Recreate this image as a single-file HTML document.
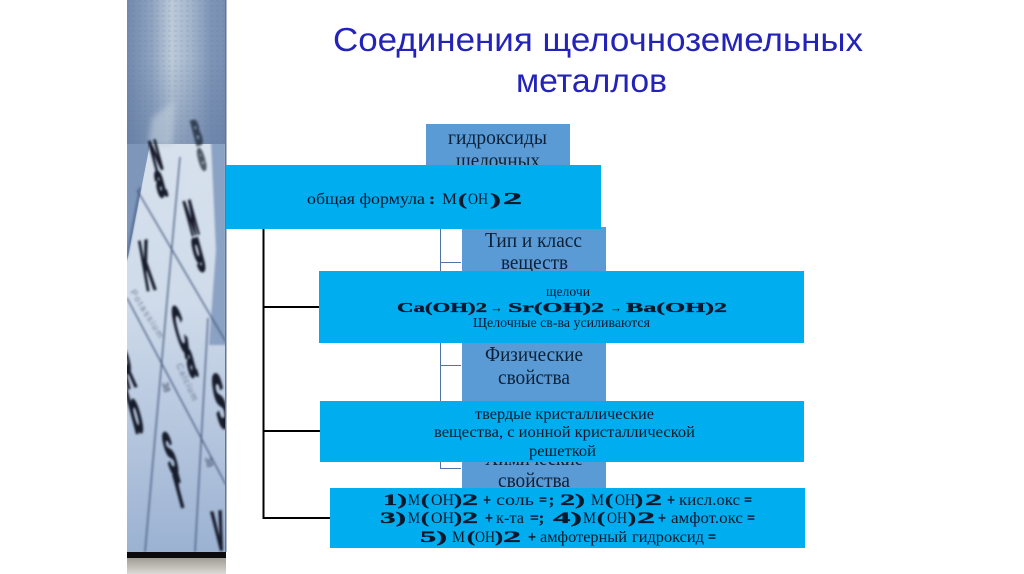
<!DOCTYPE html>
<html><head><meta charset="utf-8">
<style>
html,body{margin:0;padding:0;background:#fff;width:1024px;height:574px;overflow:hidden}
svg{display:block}
.t{font-family:"Liberation Sans","DejaVu Sans",sans-serif;fill:#1212b4;font-size:33px}
text.b{font-family:"Liberation Serif","DejaVu Serif",serif;fill:#0c2138;font-size:21px}
text.r{font-family:"Liberation Serif","DejaVu Serif",serif;fill:#08192e}
text.w{font-family:"Liberation Serif",serif;font-weight:bold;fill:#08192e;stroke:#08192e;stroke-width:.35px}
text.p{font-family:"Liberation Sans",sans-serif;fill:#131a2a;font-weight:bold;font-size:20px;stroke:#131a2a;stroke-width:2.4px;vector-effect:non-scaling-stroke}
text.q{font-family:"Liberation Sans",sans-serif;fill:#2a3650;font-size:9px}
.f15{font-size:15.5px}.f16{font-size:16px}.f13{font-size:13.5px}
</style></head><body>
<svg width="1024" height="574" viewBox="0 0 1024 574" xmlns="http://www.w3.org/2000/svg">
<defs>
<linearGradient id="g" x1="0" y1="0" x2="0" y2="1">
<stop offset="0" stop-color="#dfe7f1"/><stop offset=".55" stop-color="#cfdbea"/><stop offset=".8" stop-color="#b3c4dd"/><stop offset="1" stop-color="#9bb2d2"/>
</linearGradient>
<linearGradient id="top" x1="0" y1="0" x2="1" y2="0">
<stop offset="0" stop-color="#7189ae"/><stop offset=".25" stop-color="#8ea3c0"/><stop offset=".45" stop-color="#bccad9"/><stop offset=".65" stop-color="#a2b4cb"/><stop offset=".85" stop-color="#7d94b6"/><stop offset="1" stop-color="#788fb3"/>
</linearGradient>
<linearGradient id="shade" x1="0" y1="0" x2="0" y2="1">
<stop offset="0" stop-color="#5f789f" stop-opacity="0"/><stop offset="1" stop-color="#5f789f" stop-opacity=".5"/>
</linearGradient>
<linearGradient id="foot" x1="0" y1="0" x2="0" y2="1">
<stop offset="0" stop-color="#a09c94"/><stop offset="1" stop-color="#dcdad6"/>
</linearGradient>
<pattern id="tex" width="6" height="5" patternUnits="userSpaceOnUse">
<rect width="3" height="2" fill="#51698f" opacity=".1"/>
</pattern>
<filter id="b"><feGaussianBlur stdDeviation="1"/></filter>
<filter id="b3"><feGaussianBlur stdDeviation="3"/></filter>
<clipPath id="c"><rect x="127" y="0" width="99" height="552"/></clipPath>
</defs>

<!-- left photo panel -->
<g clip-path="url(#c)">
<rect x="127" y="0" width="99" height="552" fill="url(#g)"/>
<polygon points="127,144 150,144 127,262" fill="#7d96ba"/>
<polygon points="210,120 226,120 226,345 209,345 216,250" fill="#8aa2c3" filter="url(#b)"/>
<rect x="127" y="0" width="99" height="144" fill="url(#top)"/>
<rect x="127" y="0" width="99" height="144" fill="url(#tex)"/>
<rect x="127" y="60" width="99" height="84" fill="url(#shade)"/>
<polygon points="152,118 175,100 172,146 148,146" fill="#c0cedc" opacity=".6" filter="url(#b3)"/>
<g filter="url(#b)">
<g stroke="#3f5379" stroke-width="1.2" fill="none">
<line x1="180" y1="157" x2="168" y2="290"/>
<line x1="168" y1="290" x2="145" y2="552"/>
<line x1="208" y1="318" x2="195" y2="552"/>
<line x1="137" y1="190" x2="226" y2="342"/>
<line x1="127" y1="298" x2="226" y2="485"/>
<line x1="127" y1="257" x2="140" y2="187"/>
</g>
<text class="p" transform="translate(155,170) rotate(-15) scale(.62,2.05)">N</text>
<text class="p" transform="translate(159,197) rotate(-15) scale(.8,2.3)">a</text>
<text class="p" transform="translate(196,145) rotate(-15) scale(.55,1.7)" opacity=".7">B</text>
<text class="p" transform="translate(201,170) rotate(-15) scale(.6,1.9)" opacity=".7">e</text>
<text class="p" transform="translate(191,235) rotate(-15) scale(.55,2.4)">M</text>
<text class="p" transform="translate(196,263) rotate(-15) scale(.75,2.2)">g</text>
<text class="p" transform="translate(146,290) rotate(-10) scale(.7,3.5)">K</text>
<text class="p" transform="translate(181,353) rotate(-15) scale(.7,3.3)">C</text>
<text class="p" transform="translate(190,377) rotate(-15) scale(.75,2.6)">a</text>
<text class="p" transform="translate(127,388) rotate(-15) scale(.7,2.8)">R</text>
<text class="p" transform="translate(135,433) rotate(-15) scale(.85,3)">b</text>
<text class="p" transform="translate(171,475) rotate(-15) scale(.7,3)">S</text>
<text class="p" transform="translate(180,507) rotate(-15) scale(.9,3)">r</text>
<text class="p" transform="translate(219,428) rotate(-10) scale(.85,3.8)">S</text>
<text class="p" transform="translate(216,550) rotate(-8) scale(.8,2.7)">V</text>
<text class="q" transform="translate(130,292) rotate(58)" textLength="55" opacity=".6">Potassium</text>
<text class="q" transform="translate(176,365) rotate(65)" textLength="40" opacity=".6">Calcium</text>
<text class="q" transform="translate(162,383) rotate(75)">38</text>
<text class="q" transform="translate(205,458) rotate(75)">38</text>
</g>
</g>
<rect x="225" y="0" width="1.5" height="552" fill="#66758f"/>
<rect x="127" y="552" width="99" height="6" fill="#0b0b0d"/>
<rect x="127" y="558" width="99" height="16" fill="url(#foot)"/>

<!-- title -->
<text class="t" x="333" y="51" textLength="530" lengthAdjust="spacingAndGlyphs" fill-opacity=".93">Соединения щелочноземельных</text>
<text class="t" x="516" y="92" textLength="151" lengthAdjust="spacingAndGlyphs" fill-opacity=".93">металлов</text>

<!-- blue boxes behind -->
<rect x="426" y="124" width="144" height="45" fill="#5b9bd5"/>
<rect x="462" y="227" width="144" height="48" fill="#5b9bd5"/>
<rect x="462" y="340" width="144" height="64" fill="#5b9bd5"/>
<rect x="462" y="458" width="144" height="34" fill="#5b9bd5"/>

<text class="b" x="448" y="144" textLength="99" lengthAdjust="spacingAndGlyphs">гидроксиды</text>
<text class="b" x="456" y="167" textLength="84" lengthAdjust="spacingAndGlyphs">щелочных</text>
<text class="b" x="485" y="247" textLength="97" lengthAdjust="spacingAndGlyphs">Тип и класс</text>
<text class="b" x="501" y="269" textLength="67" lengthAdjust="spacingAndGlyphs">веществ</text>
<text class="b" x="485" y="361" textLength="98" lengthAdjust="spacingAndGlyphs">Физические</text>
<text class="b" x="498" y="384" textLength="72" lengthAdjust="spacingAndGlyphs">свойства</text>
<text class="b" x="485" y="465" textLength="98" lengthAdjust="spacingAndGlyphs">Химические</text>
<text class="b" x="498" y="487" textLength="72" lengthAdjust="spacingAndGlyphs">свойства</text>

<!-- connectors -->
<g stroke="#4f74a8" stroke-width="1" fill="none">
<line x1="440.5" y1="229" x2="440.5" y2="469"/>
<line x1="440" y1="262.5" x2="461" y2="262.5"/>
<line x1="440" y1="365.5" x2="461" y2="365.5"/>
<line x1="440" y1="468.5" x2="461" y2="468.5"/>
</g>
<g stroke="#000" stroke-width="2" fill="none">
<line x1="263.5" y1="229" x2="263.5" y2="519"/>
<line x1="263" y1="307" x2="320" y2="307"/>
<line x1="263" y1="431" x2="320" y2="431"/>
<line x1="263" y1="518" x2="330" y2="518"/>
</g>

<!-- cyan boxes -->
<rect x="226" y="165" width="375" height="64" fill="#00adef"/>
<rect x="319" y="271" width="485" height="72" fill="#00adef"/>
<rect x="320" y="401" width="484" height="61" fill="#00adef"/>
<rect x="330" y="488" width="475" height="60" fill="#00adef"/>

<!-- cyan box 1 -->
<text class="r f16" x="307" y="204" textLength="118" lengthAdjust="spacingAndGlyphs">общая формула</text>
<text class="w f16" x="429" y="204" textLength="6" lengthAdjust="spacingAndGlyphs">:</text>
<text class="r f16" x="442" y="204" textLength="15" lengthAdjust="spacingAndGlyphs">М</text>
<text class="w" font-size="17" x="458" y="205" textLength="9" lengthAdjust="spacingAndGlyphs">(</text>
<text class="r f16" x="468" y="204" textLength="20" lengthAdjust="spacingAndGlyphs">ОН</text>
<text class="w" font-size="17" x="490" y="205" textLength="11" lengthAdjust="spacingAndGlyphs">)</text>
<text class="w" font-size="17" x="503" y="204" textLength="19" lengthAdjust="spacingAndGlyphs">2</text>

<!-- cyan box 2 -->
<text class="r f13" x="546" y="296" textLength="44" lengthAdjust="spacingAndGlyphs">щелочи</text>
<text class="w" font-size="14" x="397" y="312" textLength="90" lengthAdjust="spacingAndGlyphs">Ca(OH)2</text>
<text class="r" font-size="13" x="490" y="312" textLength="13" lengthAdjust="spacingAndGlyphs" style="font-family:'Liberation Sans',sans-serif">→</text>
<text class="w" font-size="14" x="508" y="312" textLength="96" lengthAdjust="spacingAndGlyphs">Sr(OH)2</text>
<text class="r" font-size="13" x="610" y="312" textLength="12" lengthAdjust="spacingAndGlyphs" style="font-family:'Liberation Sans',sans-serif">→</text>
<text class="w" font-size="14" x="626" y="312" textLength="101" lengthAdjust="spacingAndGlyphs">Ba(OH)2</text>
<text class="r f13" x="473" y="327" textLength="177" lengthAdjust="spacingAndGlyphs">Щелочные св-ва усиливаются</text>

<!-- cyan box 3 -->
<text class="r f15" x="475" y="419" textLength="179" lengthAdjust="spacingAndGlyphs">твердые кристаллические</text>
<text class="r f15" x="434" y="437" textLength="261" lengthAdjust="spacingAndGlyphs">вещества, с ионной кристаллической</text>
<text class="r f15" x="529" y="456" textLength="67" lengthAdjust="spacingAndGlyphs">решеткой</text>

<g font-size="16">
<!-- line 1 -->
<text class="w" x="383" y="505" textLength="24" lengthAdjust="spacingAndGlyphs">1)</text>
<text class="r" x="408" y="505" textLength="12" lengthAdjust="spacingAndGlyphs">М</text>
<text class="w" x="421" y="505" textLength="8" lengthAdjust="spacingAndGlyphs">(</text>
<text class="r" x="431" y="505" textLength="23" lengthAdjust="spacingAndGlyphs">ОН</text>
<text class="w" x="454" y="505" textLength="8" lengthAdjust="spacingAndGlyphs">)</text>
<text class="w" x="462" y="505" textLength="16" lengthAdjust="spacingAndGlyphs">2</text>
<text class="w" x="483" y="505" textLength="8" lengthAdjust="spacingAndGlyphs">+</text>
<text class="r" x="496" y="505" textLength="38" lengthAdjust="spacingAndGlyphs">соль</text>
<text class="w" x="539" y="505" textLength="8" lengthAdjust="spacingAndGlyphs">=</text>
<text class="w" x="549" y="505" textLength="5" lengthAdjust="spacingAndGlyphs">;</text>
<text class="w" x="560" y="505" textLength="25" lengthAdjust="spacingAndGlyphs">2)</text>
<text class="r" x="591" y="505" textLength="13" lengthAdjust="spacingAndGlyphs">М</text>
<text class="w" x="605" y="505" textLength="8" lengthAdjust="spacingAndGlyphs">(</text>
<text class="r" x="615" y="505" textLength="20" lengthAdjust="spacingAndGlyphs">ОН</text>
<text class="w" x="635" y="505" textLength="8" lengthAdjust="spacingAndGlyphs">)</text>
<text class="w" x="645" y="505" textLength="17" lengthAdjust="spacingAndGlyphs">2</text>
<text class="w" x="667" y="505" textLength="8" lengthAdjust="spacingAndGlyphs">+</text>
<text class="r" x="679" y="505" textLength="61" lengthAdjust="spacingAndGlyphs">кисл.окс</text>
<text class="w" x="744" y="505" textLength="8" lengthAdjust="spacingAndGlyphs">=</text>

<!-- line 2 -->
<text class="w" x="380" y="523" textLength="26" lengthAdjust="spacingAndGlyphs">3)</text>
<text class="r" x="408" y="523" textLength="12" lengthAdjust="spacingAndGlyphs">М</text>
<text class="w" x="421" y="523" textLength="8" lengthAdjust="spacingAndGlyphs">(</text>
<text class="r" x="431" y="523" textLength="23" lengthAdjust="spacingAndGlyphs">ОН</text>
<text class="w" x="454" y="523" textLength="8" lengthAdjust="spacingAndGlyphs">)</text>
<text class="w" x="462" y="523" textLength="16" lengthAdjust="spacingAndGlyphs">2</text>
<text class="w" x="485" y="523" textLength="8" lengthAdjust="spacingAndGlyphs">+</text>
<text class="r" x="496" y="523" textLength="28" lengthAdjust="spacingAndGlyphs">к-та</text>
<text class="w" x="530" y="523" textLength="14" lengthAdjust="spacingAndGlyphs">=;</text>
<text class="w" x="553" y="523" textLength="29" lengthAdjust="spacingAndGlyphs">4)</text>
<text class="r" x="583" y="523" textLength="13" lengthAdjust="spacingAndGlyphs">М</text>
<text class="w" x="597" y="523" textLength="8" lengthAdjust="spacingAndGlyphs">(</text>
<text class="r" x="607" y="523" textLength="20" lengthAdjust="spacingAndGlyphs">ОН</text>
<text class="w" x="628" y="523" textLength="8" lengthAdjust="spacingAndGlyphs">)</text>
<text class="w" x="637" y="523" textLength="18" lengthAdjust="spacingAndGlyphs">2</text>
<text class="w" x="658" y="523" textLength="8" lengthAdjust="spacingAndGlyphs">+</text>
<text class="r" x="671" y="523" textLength="72" lengthAdjust="spacingAndGlyphs">амфот.окс</text>
<text class="w" x="747" y="523" textLength="8" lengthAdjust="spacingAndGlyphs">=</text>

<!-- line 3 -->
<text class="w" x="420" y="542" textLength="27" lengthAdjust="spacingAndGlyphs">5)</text>
<text class="r" x="452" y="542" textLength="13" lengthAdjust="spacingAndGlyphs">М</text>
<text class="w" x="467" y="542" textLength="8" lengthAdjust="spacingAndGlyphs">(</text>
<text class="r" x="475" y="542" textLength="20" lengthAdjust="spacingAndGlyphs">ОН</text>
<text class="w" x="495" y="542" textLength="8" lengthAdjust="spacingAndGlyphs">)</text>
<text class="w" x="503" y="542" textLength="18" lengthAdjust="spacingAndGlyphs">2</text>
<text class="w" x="528" y="542" textLength="8" lengthAdjust="spacingAndGlyphs">+</text>
<text class="r" x="540" y="542" textLength="87" lengthAdjust="spacingAndGlyphs">амфотерный</text>
<text class="r" x="632" y="542" textLength="72" lengthAdjust="spacingAndGlyphs">гидроксид</text>
<text class="w" x="708" y="542" textLength="8" lengthAdjust="spacingAndGlyphs">=</text>
</g>
</svg>
</body></html>
